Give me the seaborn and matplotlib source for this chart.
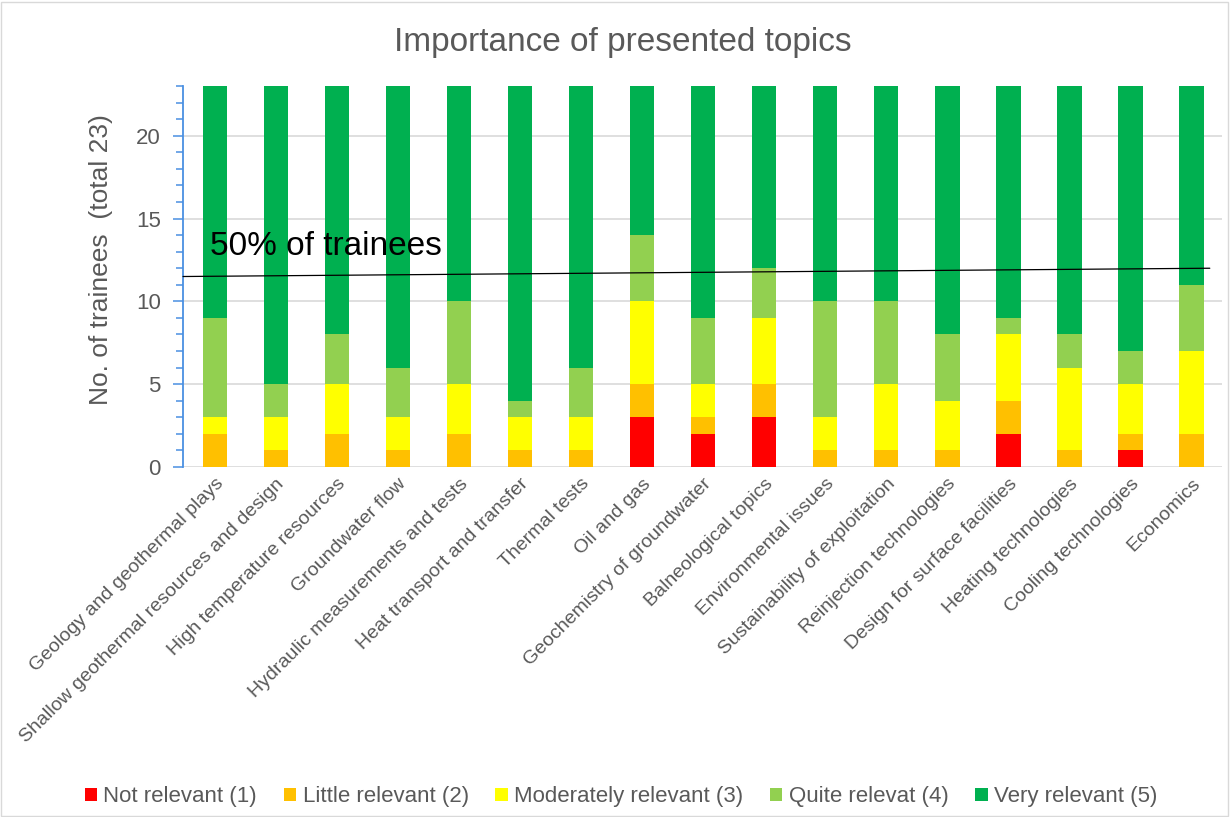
import numpy as np
import pandas as pd
import seaborn as sns
import matplotlib
matplotlib.use("Agg")
import matplotlib.pyplot as plt
from matplotlib.patches import Patch, Rectangle

# Survey answers per topic (number of trainees, total 23)
topics = [
    "Geology and geothermal plays",
    "Shallow geothermal resources and design",
    "High temperature resources",
    "Groundwater flow",
    "Hydraulic measurements and tests",
    "Heat transport and transfer",
    "Thermal tests",
    "Oil and gas",
    "Geochemistry of groundwater",
    "Balneological topics",
    "Environmental issues",
    "Sustainability of exploitation",
    "Reinjection technologies",
    "Design for surface facilities",
    "Heating technologies",
    "Cooling technologies",
    "Economics",
]
not_relevant = [0, 0, 0, 0, 0, 0, 0, 3, 2, 3, 0, 0, 0, 2, 0, 1, 0]
little_relevant = [2, 1, 2, 1, 2, 1, 1, 2, 1, 2, 1, 1, 1, 2, 1, 1, 2]
moderately_relevant = [1, 2, 3, 2, 3, 2, 2, 5, 2, 4, 2, 4, 3, 4, 5, 3, 5]
quite_relevant = [6, 2, 3, 3, 5, 1, 3, 4, 4, 3, 7, 5, 4, 1, 2, 2, 4]
very_relevant = [14, 18, 15, 17, 13, 19, 17, 9, 14, 11, 13, 13, 15, 14, 15, 16, 12]

levels = ["Not relevant (1)", "Little relevant (2)", "Moderately relevant (3)",
          "Quite relevat (4)", "Very relevant (5)"]
level_colors = ["#FF0000", "#FFC000", "#FFFF00", "#92D050", "#00B050"]
series = [not_relevant, little_relevant, moderately_relevant, quite_relevant, very_relevant]

total_trainees = 23
half_line = [11.5, 12.0]  # reference line, left and right end values

sns.set_theme(style="white")
plt.rcParams["font.family"] = ["Liberation Sans", "DejaVu Sans"]
text_gray = "#595959"

fig = plt.figure(figsize=(12.3, 8.17), dpi=100)
ax = fig.add_axes([0.1488, 0.4284, 0.8447, 0.4663])

bottom = np.zeros(len(topics))
for name, vals, col in zip(levels, series, level_colors):
    df = pd.DataFrame({"topic": topics, "count": vals})
    sns.barplot(data=df, x="topic", y="count", order=topics, color=col,
                bottom=bottom.copy(), width=0.4, ax=ax, saturation=1,
                edgecolor="none", linewidth=0, errorbar=None)
    bottom += np.array(vals)

ax.set_xlim(-0.52, len(topics) - 0.5)
ax.set_ylim(0, total_trainees)

# Horizontal grid
ax.set_yticks([0, 5, 10, 15, 20])
ax.set_yticks(np.arange(0, total_trainees + 1, 1), minor=True)
for y in [0, 5, 10, 15, 20]:
    ax.axhline(y, color="#D9D9D9", lw=1.2, zorder=0)

for s in ["top", "right", "bottom"]:
    ax.spines[s].set_visible(False)
ax.spines["left"].set_color("#4A90E2")
ax.spines["left"].set_linewidth(1.3)
ax.tick_params(axis="y", which="major", direction="out", length=7, width=1.1,
               color="#4A90E2", labelsize=16, labelcolor=text_gray, pad=9, left=True)
ax.tick_params(axis="y", which="minor", direction="out", length=5, width=1.1,
               color="#4A90E2", left=True)
ax.tick_params(axis="x", length=0, pad=6)

ax.set_xlabel("")
ax.set_ylabel("No. of trainees  (total 23)", fontsize=19, color=text_gray)
ax.yaxis.set_label_coords(-0.067, 0.545)
ax.set_xticks(range(len(topics)))
ax.set_xticklabels(topics, rotation=45, ha="right", rotation_mode="anchor",
                   fontsize=14, color=text_gray)

# 50% line
ax.plot([-0.52, 16.3], half_line, color="black", lw=0.9, zorder=5, clip_on=False)
ax.text(-0.08, 12.4, "50% of trainees", fontsize=24, color="black",
        ha="left", va="bottom", zorder=6)

fig.text(0.506, 0.948, "Importance of presented topics", ha="center", va="center",
         fontsize=24, color=text_gray)

handles = [Patch(facecolor=c, edgecolor="none") for c in level_colors]
fig.legend(handles, levels, loc="center", bbox_to_anchor=(0.505, 0.025), ncol=5,
           frameon=False, fontsize=16, handlelength=0.55, handleheight=0.55,
           handletextpad=0.3, columnspacing=1.2, labelcolor=text_gray)

# Chart area border
fig.add_artist(Rectangle((0.001, 0.001), 0.997, 0.997, transform=fig.transFigure,
                         fill=False, edgecolor="#D9D9D9", lw=1))

fig.savefig("out.png", dpi=100)
